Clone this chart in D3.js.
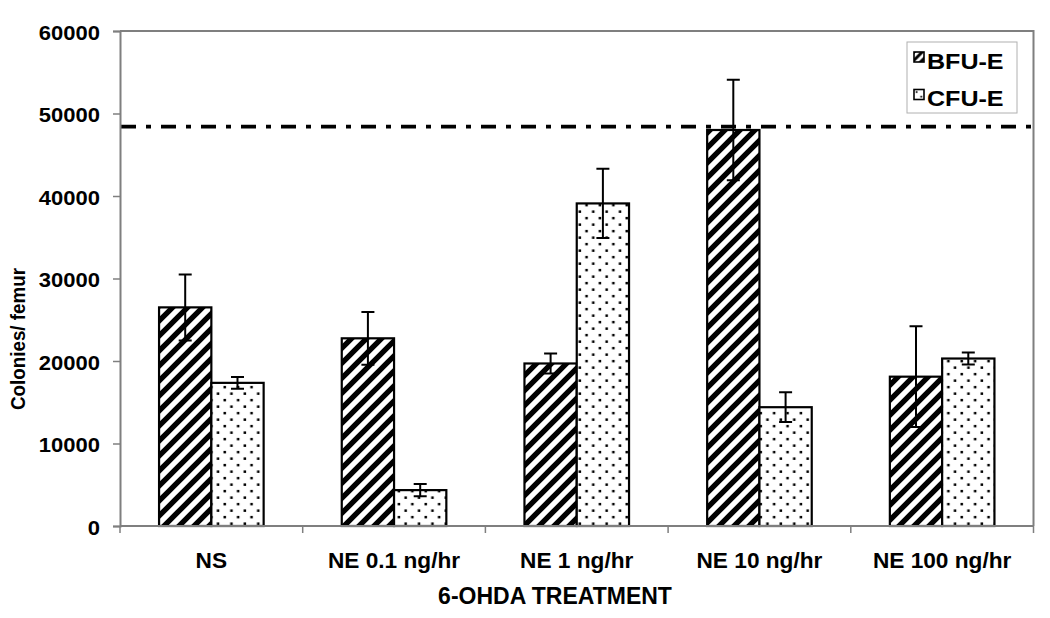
<!DOCTYPE html>
<html>
<head>
<meta charset="utf-8">
<script src="https://cdn.jsdelivr.net/npm/d3@7"></script>
<style>
html,body{margin:0;padding:0;background:#fff;}
text{font-family:"Liberation Sans",Arial,sans-serif;font-weight:bold;fill:#000;}
</style>
</head>
<body>
<svg id="chart" width="1050" height="618"></svg>
<script>
const categories = ["NS", "NE 0.1 ng/hr", "NE 1 ng/hr", "NE 10 ng/hr", "NE 100 ng/hr"];
const series = ["BFU-E", "CFU-E"];
const bfuValues = [26500, 22750, 19700, 48000, 18100];
const bfuErrors = [4000, 3200, 1200, 6100, 6100];
const cfuValues = [17350, 4350, 39100, 14400, 20300];
const cfuErrors = [700, 730, 4200, 1800, 730];
const referenceLevel = 48400;
const yTicks = [0, 10000, 20000, 30000, 40000, 50000, 60000];
const yTitle = "Colonies/ femur";
const xTitle = "6-OHDA TREATMENT";

const svg = d3.select("#chart");
const m = {left:120, top:31, right:1033.5, bottom:526};
const axisColor = "#7f7f7f";

const defs = svg.append("defs");
function stripes(id, s){
  const p = defs.append("pattern").attr("id", id).attr("patternUnits","userSpaceOnUse")
    .attr("width", 15).attr("height", 15);
  if (s) p.attr("patternTransform", `scale(${s})`);
  p.append("rect").attr("width",15).attr("height",15).attr("fill","#fff");
  p.append("path").attr("d","M-4,4 L4,-4 M0,15 L15,0 M11,19 L19,11")
    .attr("stroke","#000").attr("stroke-width",5.4);
}
function dots(id, s){
  const p = defs.append("pattern").attr("id", id).attr("patternUnits","userSpaceOnUse")
    .attr("width", 13.4).attr("height", 13);
  if (s) p.attr("patternTransform", `scale(${s})`);
  p.append("rect").attr("width",13.4).attr("height",13).attr("fill","#fff");
  p.append("rect").attr("x",2.4).attr("y",2.4).attr("width",2.5).attr("height",2.5).attr("fill","#000");
  p.append("rect").attr("x",9.1).attr("y",8.9).attr("width",2.5).attr("height",2.5).attr("fill","#000");
}
stripes("pBFU"); dots("pCFU"); stripes("pBFUs", 0.55); dots("pCFUs", 0.7);
const fills = {"BFU-E":"url(#pBFU)", "CFU-E":"url(#pCFU)"};
const fillsSmall = {"BFU-E":"url(#pBFUs)", "CFU-E":"url(#pCFUs)"};

const y = d3.scaleLinear().domain([0, 60000]).range([m.bottom, m.top]);
const x0 = d3.scaleBand().domain(categories).range([m.left, m.right]).paddingInner(0).paddingOuter(0);
const x1 = d3.scaleBand().domain(series).range([0, x0.bandwidth()]).paddingInner(0).paddingOuter(0.747);

// plot border (top/right)
svg.append("path")
  .attr("d", `M${m.left},${m.top} H${m.right} V${m.bottom}`)
  .attr("fill","none").attr("stroke", axisColor).attr("stroke-width", 2);

const data = [];
categories.forEach((c,i)=>{
  data.push({cat:c, s:"BFU-E", v:bfuValues[i], e:bfuErrors[i]});
  data.push({cat:c, s:"CFU-E", v:cfuValues[i], e:cfuErrors[i]});
});

// bars
svg.append("g").selectAll("rect").data(data).join("rect")
  .attr("x", d=>x0(d.cat)+x1(d.s))
  .attr("y", d=>y(d.v))
  .attr("width", x1.bandwidth())
  .attr("height", d=>y(0)-y(d.v))
  .attr("fill", d=>fills[d.s])
  .attr("stroke","#000").attr("stroke-width",2.2);

// error bars
const eb = svg.append("g").attr("stroke","#000").attr("stroke-width",2).attr("fill","none");
data.forEach(d=>{
  const cx = x0(d.cat)+x1(d.s)+x1.bandwidth()/2;
  const hw = 6.5;
  eb.append("path").attr("d",
    `M${cx},${y(d.v+d.e)} V${y(d.v-d.e)} M${cx-hw},${y(d.v+d.e)} H${cx+hw} M${cx-hw},${y(d.v-d.e)} H${cx+hw}`);
});

// reference line
svg.append("line")
  .attr("x1", m.left+1).attr("x2", m.right-2)
  .attr("y1", y(referenceLevel)).attr("y2", y(referenceLevel))
  .attr("stroke","#000").attr("stroke-width",3.8)
  .attr("stroke-dasharray","15,10,5,10");

// y axis
const yAxis = svg.append("g").attr("transform",`translate(${m.left},0)`)
  .call(d3.axisLeft(y).tickValues(yTicks).tickFormat(d3.format("d")).tickSize(7).tickPadding(0));
yAxis.select(".domain").attr("stroke",axisColor).attr("stroke-width",2);
yAxis.selectAll(".tick line").attr("stroke",axisColor).attr("stroke-width",1.5);
yAxis.selectAll(".tick text").each(function(){
  const t = d3.select(this);
  t.attr("x", null).attr("dy", null).attr("font-size", 20)
   .attr("text-anchor","end").attr("dominant-baseline","central")
   .attr("transform", "translate(-20,1) scale(1.1,1)");
});

// x axis
const xAxis = svg.append("g").attr("transform",`translate(0,${m.bottom})`);
xAxis.append("line").attr("x1", m.left).attr("x2", m.right).attr("stroke",axisColor).attr("stroke-width",2);
const bounds = categories.map(c=>x0(c)).concat([x0(categories[categories.length-1])+x0.bandwidth()]);
xAxis.selectAll("line.tk").data(bounds).join("line").attr("class","tk")
  .attr("x1", d=>d).attr("x2", d=>d).attr("y1", 0).attr("y2", 7)
  .attr("stroke",axisColor).attr("stroke-width",1.5);
xAxis.selectAll("g.lbl").data(categories).join("g").attr("class","lbl")
  .attr("transform", d=>`translate(${x0(d)+x0.bandwidth()/2},41.5) scale(1.03,1)`)
  .append("text").attr("text-anchor","middle").attr("font-size",22).text(d=>d);

// axis titles
svg.append("g").attr("transform",`translate(555,603.5)`)
  .append("text").attr("text-anchor","middle").attr("font-size",23).text(xTitle);
svg.append("text").attr("transform","translate(25,339) rotate(-90) scale(0.94,1)")
  .attr("text-anchor","middle").attr("font-size",20).text(yTitle);

// legend
const lg = svg.append("g").attr("transform","translate(907,42)");
lg.append("rect").attr("width",110).attr("height",71).attr("fill","#fff")
  .attr("stroke","#b0b0b0").attr("stroke-width",1);
series.forEach((s,i)=>{
  const g = lg.append("g").attr("transform",`translate(7,${10+i*37.5})`);
  g.append("rect").attr("width",10).attr("height",10).attr("fill",fillsSmall[s])
    .attr("stroke","#000").attr("stroke-width",1.6);
  g.append("g").attr("transform","translate(13,16.5) scale(1.14,1)")
    .append("text").attr("font-size",22).text(s);
});
</script>
</body>
</html>
